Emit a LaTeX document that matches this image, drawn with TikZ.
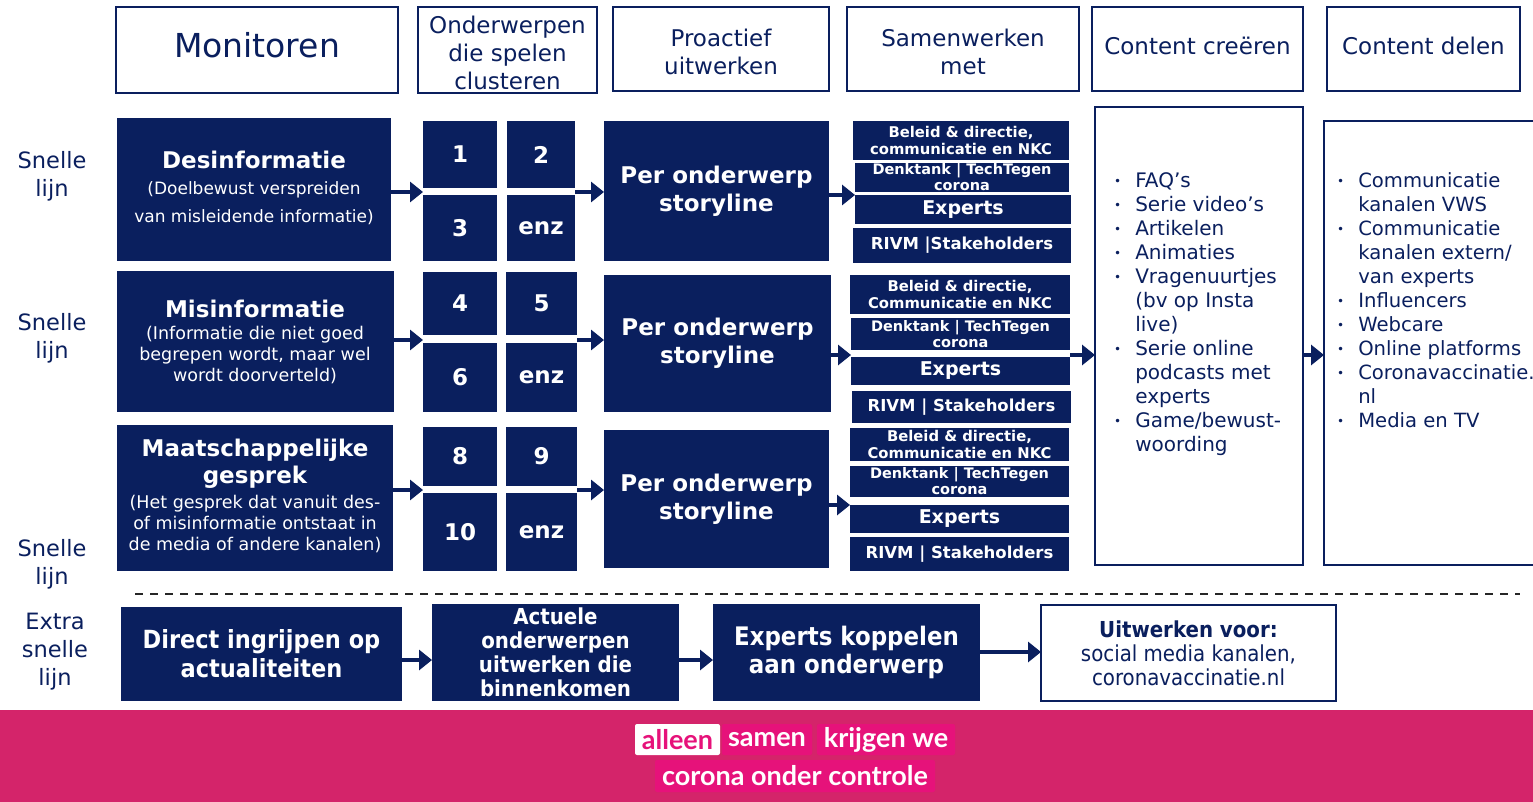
\documentclass[tikz,border=0pt]{standalone}
\usepackage{fontspec}
\setmainfont{DejaVu Sans}
\newfontfamily\condf{DejaVu Sans Condensed}
\newfontfamily\latof{Lato}
\usetikzlibrary{arrows.meta}
\definecolor{navy}{RGB}{10,31,94}
\definecolor{pinkbg}{RGB}{212,36,106}
\definecolor{pinktag}{RGB}{230,18,122}
\newcommand\fs[2]{\fontsize{#1}{#2}\selectfont}
\newcommand\bul{\raisebox{2pt}{\fs{12}{24}•}}
\newcommand\bx[7]{\node[#6,minimum width={(#4)-(#2)},minimum height={(#5)-(#3)}] (#1) at ({((#2)+(#4))/2},{((#3)+(#5))/2}) {#7};}
\tikzset{
  box/.style={inner sep=0pt, outer sep=0pt, align=center},
  hdr/.style={box, draw=navy, line width=1.5pt, fill=white, text=navy, font=\fs{23}{28}},
  dark/.style={box, fill=navy, text=white, font=\bfseries\fs{23}{28}},
  small/.style={box, fill=navy, text=white, font=\bfseries\fs{14.8}{17}},
  wbox/.style={box, draw=navy, line width=2pt, fill=white, text=navy},
  arr/.style={navy, line width=4.5pt, -{Triangle[length=13pt,width=20pt]}},
  lbl/.style={text=navy, align=center, inner sep=0pt},
  wtxt/.style={text=white, align=center, inner sep=0pt},
  btm/.style={box, fill=navy, text=white, font=\condf\bfseries\fs{25}{29}},
  tag/.style={box, rounded corners=2pt, fill=pinktag, text=white, font=\latof\bfseries\fs{27}{30}}
}
\begin{document}
\begin{tikzpicture}[x=1pt,y=-1pt]
\useasboundingbox (0,0) rectangle (1533,802);
% headers
\bx{h1}{116}{7}{398}{93}{hdr,font=\fs{33}{38}}{\raisebox{10pt}{Monitoren}}
\bx{h2}{418}{7}{597}{93}{hdr}{\rule{0pt}{23pt}Onderwerpen\\die spelen\\clusteren}
\bx{h3}{613}{7}{829}{91}{hdr}{\rule{0pt}{23pt}Proactief\\uitwerken}
\bx{h4}{847}{7}{1079}{91}{hdr}{\rule{0pt}{23pt}Samenwerken\\met}
\bx{h5}{1092}{7}{1303}{91}{hdr}{\raisebox{6pt}{Content creëren}}
\bx{h6}{1327}{7}{1520}{91}{hdr}{\raisebox{6pt}{Content delen}}
% left labels
\node[lbl, font=\fs{22.5}{28}] (l1) at (52,176) {Snelle\\lijn};
\node[lbl, font=\fs{22.5}{28}] (l2) at (52,338) {Snelle\\lijn};
\node[lbl, font=\fs{22.5}{28}] (l3) at (52,564) {Snelle\\lijn};
\node[lbl, font=\fs{22.5}{28}] (l4) at (55,652) {Extra\\snelle\\lijn};
% row 1
\bx{d1}{117}{118}{391}{261}{dark}{}
\node[wtxt, font=\bfseries\fs{23}{27}] (d1t) at (254,160) {Desinformatie};
\node[wtxt, font=\fs{17}{28}] (d1s) at (254,203) {(Doelbewust verspreiden\\van misleidende informatie)};
\bx{n1}{423}{121}{497}{188}{dark}{1}
\bx{n2}{507}{121}{575}{188}{dark}{2}
\bx{n3}{423}{195}{497}{261}{dark}{3}
\bx{n4}{507}{195}{575}{261}{dark}{enz}
\bx{s1}{604}{121}{829}{261}{dark}{Per onderwerp\\storyline}
\bx{b1}{853}{121}{1069}{160}{small}{Beleid \& directie,\\communicatie en NKC}
\bx{t1}{855}{163}{1069}{192}{small,font=\bfseries\fs{14.5}{16}}{Denktank | TechTegen\\corona}
\bx{e1}{855}{195}{1071}{224}{small,font=\bfseries\fs{19}{22}}{Experts}
\bx{r1}{853}{228}{1071}{263}{small,font=\bfseries\fs{16.5}{18}}{RIVM |Stakeholders}
% row 2
\bx{d2}{117}{271}{394}{412}{dark}{}
\node[wtxt, font=\bfseries\fs{23}{27}] (d2t) at (255,309) {Misinformatie};
\node[wtxt, font=\fs{17.5}{21}] (d2s) at (255,355) {(Informatie die niet goed\\begrepen wordt, maar wel\\wordt doorverteld)};
\bx{n5}{423}{272}{497}{335}{dark}{4}
\bx{n6}{506}{272}{577}{335}{dark}{5}
\bx{n7}{423}{343}{497}{412}{dark}{6}
\bx{n8}{506}{343}{577}{412}{dark}{enz}
\bx{s2}{604}{275}{831}{412}{dark}{Per onderwerp\\storyline}
\bx{b2}{850}{275}{1070}{314}{small}{Beleid \& directie,\\Communicatie en NKC}
\bx{t2}{851}{318}{1070}{350}{small,font=\bfseries\fs{14.5}{16}}{Denktank | TechTegen\\corona}
\bx{e2}{851}{357}{1070}{385}{small,font=\bfseries\fs{19}{22}}{Experts}
\bx{r2}{852}{391}{1071}{423}{small,font=\bfseries\fs{16.5}{18}}{RIVM | Stakeholders}
% row 3
\bx{d3}{117}{425}{393}{571}{dark}{}
\node[wtxt, font=\bfseries\fs{23}{27}] (d3t) at (255,464) {Maatschappelijke\\gesprek};
\node[wtxt, font=\fs{17.5}{21}] (d3s) at (255,524) {(Het gesprek dat vanuit des-\\of misinformatie ontstaat in\\de media of andere kanalen)};
\bx{n9}{423}{427}{497}{486}{dark}{8}
\bx{n10}{506}{427}{577}{486}{dark}{9}
\bx{n11}{423}{493}{497}{571}{dark}{10}
\bx{n12}{506}{493}{577}{571}{dark}{enz}
\bx{s3}{604}{430}{829}{568}{dark}{Per onderwerp\\storyline}
\bx{b3}{850}{428}{1069}{461}{small}{Beleid \& directie,\\Communicatie en NKC}
\bx{t3}{850}{466}{1069}{497}{small,font=\bfseries\fs{14.5}{16}}{Denktank | TechTegen\\corona}
\bx{e3}{850}{505}{1069}{533}{small,font=\bfseries\fs{19}{22}}{Experts}
\bx{r3}{850}{537}{1069}{571}{small,font=\bfseries\fs{16.5}{18}}{RIVM | Stakeholders}
% content columns
\bx{cc}{1095}{107}{1303}{565}{wbox}{}
\bx{cd}{1324}{121}{1545}{565}{wbox}{}
\node[lbl, anchor=north west, align=left, font=\fs{20}{24}] (ccl) at (1114,170) {\begin{tabular}{@{}l@{\hspace{14pt}}l@{}}
\bul & FAQ’s\\ \bul & Serie video’s\\ \bul & Artikelen\\ \bul & Animaties\\ \bul & Vragenuurtjes\\ & (bv op Insta\\ & live)\\ \bul & Serie online\\ & podcasts met\\ & experts\\ \bul & Game/bewust-\\ & woording\end{tabular}};
\node[lbl, anchor=north west, align=left, font=\fs{19.6}{24}] (cdl) at (1337,170) {\begin{tabular}{@{}l@{\hspace{14pt}}l@{}}
\bul & Communicatie\\ & kanalen VWS\\ \bul & Communicatie\\ & kanalen extern/\\ & van experts\\ \bul & Influencers\\ \bul & Webcare\\ \bul & Online platforms\\ \bul & Coronavaccinatie.\\ & nl\\ \bul & Media en TV\end{tabular}};
% arrows rows
\draw[arr] (d1.east |- 0,192) -- (n1.west |- 0,192);
\draw[arr] (n2.east |- 0,192) -- (s1.west |- 0,192);
\draw[arr] (s1.east |- 0,195) -- (e1.west |- 0,195);
\draw[arr] (d2.east |- 0,340) -- (n5.west |- 0,340);
\draw[arr] (n6.east |- 0,340) -- (s2.west |- 0,340);
\draw[arr] (s2.east |- 0,355) -- (e2.west |- 0,355);
\draw[arr] (d3.east |- 0,490) -- (n9.west |- 0,490);
\draw[arr] (n10.east |- 0,490) -- (s3.west |- 0,490);
\draw[arr] (s3.east |- 0,505) -- (e3.west |- 0,505);
\draw[arr] (e2.east |- 0,355) -- (cc.west |- 0,355);
\draw[arr] (cc.east |- 0,355) -- (cd.west |- 0,355);
% dashed separator
\coordinate (dl1) at (135,594);
\coordinate (dl2) at (1520,594);
\draw[black!85, line width=1.5pt, dash pattern=on 8pt off 7pt] (dl1) -- (dl2);
% bottom row
\bx{x1}{121}{607}{402}{701}{btm}{Direct ingrijpen op\\actualiteiten}
\bx{x2}{432}{604}{679}{701}{btm,font=\condf\bfseries\fs{22}{24}}{Actuele\\onderwerpen\\uitwerken die\\binnenkomen}
\bx{x3}{713}{604}{980}{701}{btm,font=\condf\bfseries\fs{25.5}{28}}{Experts koppelen\\aan onderwerp}
\bx{x4}{1041}{605}{1336}{701}{wbox,font=\condf\fs{22}{24}}{{\bfseries Uitwerken voor:}\\social media kanalen,\\coronavaccinatie.nl}
\draw[arr] (x1.east |- 0,660) -- (x2.west |- 0,660);
\draw[arr] (x2.east |- 0,660) -- (x3.west |- 0,660);
\draw[arr] (x3.east |- 0,652) -- (x4.west |- 0,652);
% pink bar
\bx{bar}{0}{710}{1533}{802}{box,fill=pinkbg}{}
\bx{tg1}{635}{724}{720}{755}{tag,fill=white,text=pinktag}{alleen}
\bx{tg2}{722}{724}{812}{755}{tag}{samen}
\bx{tg3}{817}{724}{955}{755}{tag}{krijgen we}
\bx{tg4}{655}{760}{935}{792}{tag}{corona onder controle}
\end{tikzpicture}
\end{document}
